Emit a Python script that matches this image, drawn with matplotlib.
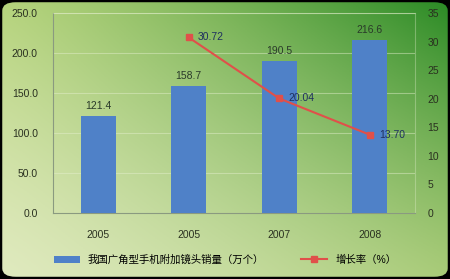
import matplotlib
matplotlib.use("Agg")
import matplotlib.pyplot as plt
import numpy as np
from matplotlib.patches import FancyBboxPatch
from matplotlib.colors import to_rgb

plt.rcParams['font.family'] = ['Liberation Sans', 'Noto Sans CJK SC', 'DejaVu Sans']

years = ['2005', '2005', '2007', '2008']
sales = [121.4, 158.7, 190.5, 216.6]
growth_x = [1, 2, 3]
growth = [30.72, 20.04, 13.70]
bar_label = '我国广角型手机附加镜头销量（万个）'
line_label = '增长率（%）'

fig = plt.figure(figsize=(4.5, 2.79), dpi=100)
fig.patch.set_facecolor('black')

# background gradient
bg = fig.add_axes([0, 0, 1, 1])
bg.set_xlim(0, 1); bg.set_ylim(0, 1); bg.axis('off')
h, w = 120, 200
yy, xx = np.mgrid[0:1:h*1j, 0:1:w*1j]
xs, ys = xx ** 1.2, yy ** 1.2
TL, TR, BL, BR = [np.array(to_rgb(c)) for c in ('#b5d37c', '#2a8a25', '#e0eabf', '#a8cb78')]
img = ((1 - xs) * ys)[..., None] * TL + (xs * ys)[..., None] * TR + \
      ((1 - xs) * (1 - ys))[..., None] * BL + (xs * (1 - ys))[..., None] * BR
im = bg.imshow(img, extent=[0, 1, 0, 1], origin='lower', aspect='auto')
box = FancyBboxPatch((0.005, 0.008), 0.99, 0.984, boxstyle='round,pad=0,rounding_size=0.03',
                     transform=bg.transAxes, facecolor='none', edgecolor='none')
bg.add_patch(box)
im.set_clip_path(box)

ax = fig.add_axes([53/450, 1 - 213/279, (415 - 53)/450, (213 - 13)/279])
ax.patch.set_alpha(0)
x = np.arange(len(years))
bars = ax.bar(x, sales, width=0.39, color='#4f81c8', label=bar_label, zorder=3)
ax.set_xlim(-0.5, 3.5)
ax.set_ylim(0, 250)
ax.set_yticks(np.arange(0, 251, 50))
ax.set_yticklabels([f'{v:.1f}' for v in np.arange(0, 251, 50)], fontsize=7.5, color='#2a3020')
ax.set_xticks(x)
ax.set_xticklabels(years, fontsize=7.5, color='#2a3020')
ax.grid(axis='y', color='#e6f0d0', alpha=0.45, linewidth=0.8, zorder=0)
for s in ['top', 'right']:
    ax.spines[s].set_color('#e6f0d0')
    ax.spines[s].set_alpha(0.35)
ax.spines['left'].set_color('#8a9a80')
ax.spines['bottom'].set_color('#8a9a80')
ax.tick_params(axis='y', length=0, pad=11)
ax.tick_params(axis='x', length=0, pad=12)
for xi, v in zip(x, sales):
    ax.text(xi, v + 6, f'{v}', ha='center', va='bottom', fontsize=7.5, color='#2a3a2a')

ax2 = ax.twinx()
ax2.set_ylim(0, 35)
ax2.set_yticks(np.arange(0, 36, 5))
ax2.set_yticklabels([str(v) for v in range(0, 36, 5)], fontsize=7.5, color='#2a3020')
ax2.tick_params(axis='y', length=0, pad=9)
for s in ax2.spines.values():
    s.set_visible(False)
line, = ax2.plot(growth_x, growth, color='#e0504a', linewidth=1.5, marker='s',
                 markersize=5, markerfacecolor='#e0504a', markeredgecolor='#e0504a',
                 label=line_label, zorder=5)
for xi, v in zip(growth_x, growth):
    ax2.text(xi + 0.1, v, f'{v:.2f}', ha='left', va='center', fontsize=7.5, color='#1f3060')

fig.legend([bars, line], [bar_label, line_label], loc='center', bbox_to_anchor=(0.5, 1 - 260/279),
           ncol=2, frameon=False, fontsize=7.5, handlelength=2.5, columnspacing=3.5)

fig.savefig('out.png', dpi=100, facecolor=fig.get_facecolor())
